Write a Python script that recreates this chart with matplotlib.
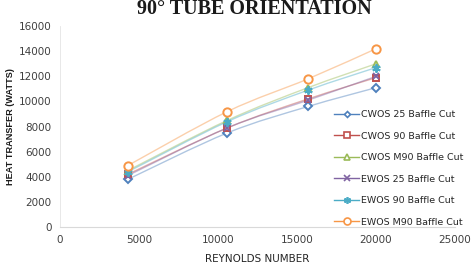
import matplotlib

matplotlib.use("Agg")
import matplotlib.pyplot as plt
from matplotlib.lines import Line2D
from matplotlib.patches import PathPatch
from matplotlib.path import Path
import numpy as np

reynolds = [4300, 10600, 15700, 20000]
series_names = [
    "CWOS 25 Baffle Cut",
    "CWOS 90 Baffle Cut",
    "CWOS M90 Baffle Cut",
    "EWOS 25 Baffle Cut",
    "EWOS 90 Baffle Cut",
    "EWOS M90 Baffle Cut",
]
cwos_25 = [3800, 7500, 9600, 11100]
cwos_90 = [4200, 7900, 10200, 11900]
cwos_m90 = [4500, 8500, 11100, 13000]
ewos_25 = [4100, 7900, 10100, 12000]
ewos_90 = [4400, 8400, 10900, 12700]
ewos_m90 = [4900, 9200, 11800, 14200]
all_series = [cwos_25, cwos_90, cwos_m90, ewos_25, ewos_90, ewos_m90]

colors = ["#4F81BD", "#C0504D", "#9BBB59", "#8064A2", "#4BACC6", "#F79646"]
markers = ["D", "s", "^", "x", (6, 2, 0), "o"]
marker_sizes = [4, 5, 5, 5, 6, 6]


def smooth_path(xs, ys):
    # Catmull-Rom style bezier through the points, like Excel's smoothed line
    pts = np.column_stack([xs, ys]).astype(float)
    verts = [pts[0]]
    codes = [Path.MOVETO]
    n = len(pts)
    for i in range(n - 1):
        p0 = pts[i - 1] if i > 0 else pts[i]
        p1, p2 = pts[i], pts[i + 1]
        p3 = pts[i + 2] if i + 2 < n else pts[i + 1]
        c1 = p1 + (p2 - p0) / 6.0
        c2 = p2 - (p3 - p1) / 6.0
        verts += [c1, c2, p2]
        codes += [Path.CURVE4] * 3
    return Path(verts, codes)


fig = plt.figure(figsize=(4.72, 2.64), dpi=100)
fig.patch.set_facecolor("white")
ax = fig.add_axes([0.127, 0.140, 0.837, 0.761])

handles = []
for name, ys, col, mk, ms in zip(series_names, all_series, colors, markers, marker_sizes):
    ax.add_patch(PathPatch(smooth_path(reynolds, ys), facecolor="none", edgecolor=col,
                           linewidth=1.0, alpha=0.45, zorder=2))
    filled = mk in ("x",) or isinstance(mk, tuple)
    ax.plot(reynolds, ys, linestyle="none", marker=mk, markersize=ms,
            markerfacecolor=col if filled else "white", markeredgecolor=col,
            markeredgewidth=1.4, zorder=3)
    handles.append(Line2D([], [], color=col, linewidth=1.0, alpha=1.0, marker=mk,
                          markersize=ms - 1, markerfacecolor=col if filled else "white",
                          markeredgecolor=col, markeredgewidth=1.2, label=name))

ax.set_xlim(0, 25000)
ax.set_ylim(0, 16000)
ax.set_xticks(range(0, 25001, 5000))
ax.set_yticks(range(0, 16001, 2000))
ax.tick_params(length=0, labelsize=7.5, labelcolor="#404040", pad=6)
for side in ["top", "right"]:
    ax.spines[side].set_visible(False)
ax.spines["left"].set_color("#e4e4e4")
ax.spines["bottom"].set_color("#d9d9d9")
ax.spines["left"].set_linewidth(0.6)
ax.spines["bottom"].set_linewidth(0.8)

ax.set_xlabel("REYNOLDS NUMBER", fontsize=7.5, color="#262626", labelpad=6)
ax.set_ylabel("HEAT TRANSFER (WATTS)", fontsize=6.6, fontweight="bold", color="#1a1a1a",
              labelpad=3, family="Liberation Sans")

fig.text(0.538, 0.967, "90° TUBE ORIENTATION", ha="center", va="center",
         fontsize=14.5, fontweight="bold", family="Liberation Serif", color="#1a1a1a")

leg = ax.legend(handles=handles, loc="upper left", bbox_to_anchor=(0.685, 0.60),
                frameon=False, fontsize=6.8, labelspacing=1.32, handlelength=2.6,
                handletextpad=0.25, borderaxespad=0)
for t in leg.get_texts():
    t.set_color("#262626")

fig.savefig("out.png", dpi=100)
